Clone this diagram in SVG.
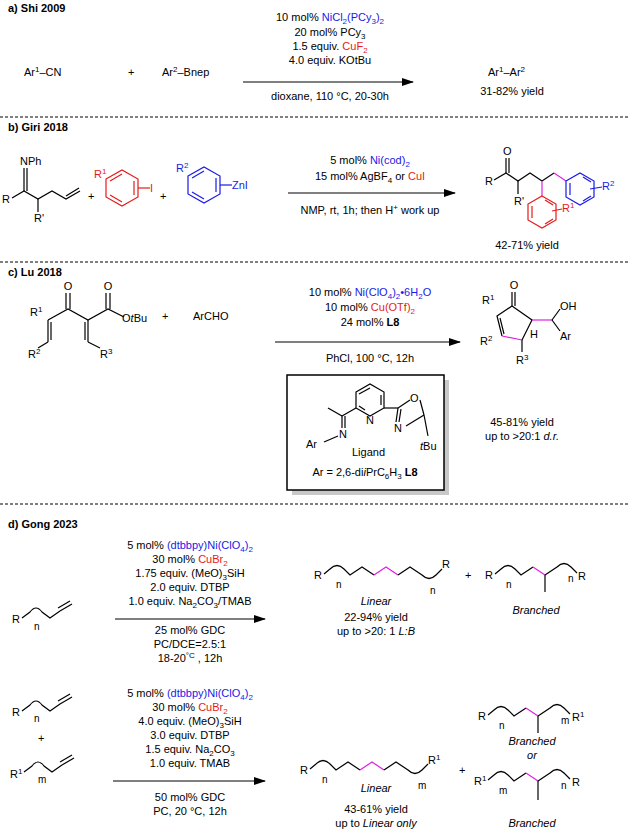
<svg xmlns="http://www.w3.org/2000/svg" width="630" height="834" viewBox="0 0 630 834">
<style>
text{font-family:"Liberation Sans",Arial,sans-serif;font-size:11px;fill:#000}
.c{text-anchor:middle}
.b{font-weight:bold}
.bl{fill:#1a1ae6}.rd{fill:#e61a1a}
.s{font-size:8px}
.n{font-size:10px}
.it{font-style:italic}
line,polyline,path,polygon{stroke:#000;stroke-width:1.2;fill:none}
.pk{stroke:#e020e0}.rr{stroke:#e61a1a}.bb{stroke:#1a1ae6}
.dash{stroke-dasharray:3 2;stroke-width:1}
</style>
<defs><marker id="ah" markerWidth="12" markerHeight="8" refX="11" refY="4" orient="auto" markerUnits="userSpaceOnUse"><path d="M0,0L12,4L0,8Z" style="fill:#000;stroke:none"/></marker></defs>
<g id="connectors">
<line x1="243" y1="82" x2="413" y2="82" marker-end="url(#ah)"/>
<line x1="288" y1="193" x2="455" y2="193" marker-end="url(#ah)"/>
<line x1="275" y1="342" x2="460" y2="342" marker-end="url(#ah)"/>
<line x1="115" y1="619" x2="265" y2="619" marker-end="url(#ah)"/>
<line x1="113" y1="781" x2="265" y2="781" marker-end="url(#ah)"/>
<line class="dash" x1="0" y1="117" x2="630" y2="117"/>
<line class="dash" x1="0" y1="262" x2="630" y2="262"/>
<line class="dash" x1="0" y1="504" x2="630" y2="504"/>
</g>
<g id="a">
<text x="8" y="12" class="b">a) Shi 2009</text>
<text x="24" y="76">Ar<tspan class="s" dy="-4">1</tspan><tspan dy="4">–CN</tspan></text>
<text x="128" y="76">+</text>
<text x="162" y="76">Ar<tspan class="s" dy="-4">2</tspan><tspan dy="4">–Bnep</tspan></text>
<text x="330" y="21" class="c">10 mol% <tspan class="bl">NiCl</tspan><tspan class="bl s" dy="3">2</tspan><tspan class="bl" dy="-3">(PCy</tspan><tspan class="bl s" dy="3">3</tspan><tspan class="bl" dy="-3">)</tspan><tspan class="bl s" dy="3">2</tspan></text>
<text x="330" y="36" class="c">20 mol% PCy<tspan class="s" dy="3">3</tspan></text>
<text x="330" y="50" class="c">1.5 equiv. <tspan class="rd">CuF</tspan><tspan class="rd s" dy="3">2</tspan></text>
<text x="330" y="64" class="c">4.0 equiv. KOtBu</text>
<text x="330" y="100" class="c">dioxane, 110 °C, 20-30h</text>
<text x="488" y="76">Ar<tspan class="s" dy="-4">1</tspan><tspan dy="4">–Ar</tspan><tspan class="s" dy="-4">2</tspan></text>
<text x="512" y="95" class="c">31-82% yield</text>
</g>
<g id="b">
<text x="8" y="131" class="b">b) Giri 2018</text>
<polyline points="12,198 24,191 38,199 52,191 66,199 80,191"/>
<line x1="24" y1="191" x2="24" y2="168"/><line x1="27" y1="191" x2="27" y2="168"/>
<line x1="66" y1="196" x2="79" y2="188"/>
<line x1="38" y1="199" x2="38" y2="212"/>
<text x="20" y="165">NPh</text><text x="2" y="203">R</text><text x="34" y="222">R'</text>
<text x="88" y="200">+</text>
<polygon class="rr" points="106,179 122,170 138,179 138,197 122,206 106,197"/>
<line class="rr" x1="110" y1="181" x2="122" y2="174"/><line class="rr" x1="134" y1="181" x2="134" y2="195"/><line class="rr" x1="110" y1="195" x2="122" y2="202"/>
<line class="rr" x1="138" y1="188" x2="150" y2="188"/>
<text x="150" y="192" class="rd">I</text><text x="94" y="178" class="rd">R<tspan class="s" dy="-4">1</tspan></text>
<text x="160" y="200">+</text>
<polygon class="bb" points="188,176 204,167 220,176 220,194 204,203 188,194"/>
<line class="bb" x1="192" y1="178" x2="204" y2="171"/><line class="bb" x1="216" y1="178" x2="216" y2="192"/><line class="bb" x1="192" y1="192" x2="204" y2="199"/>
<line class="bb" x1="220" y1="185" x2="232" y2="185"/>
<text x="232" y="189" class="bl">ZnI</text><text x="176" y="172" class="bl">R<tspan class="s" dy="-4">2</tspan></text>
<text x="370" y="164" class="c">5 mol% <tspan class="bl">Ni(cod)</tspan><tspan class="bl s" dy="3">2</tspan></text>
<text x="370" y="180" class="c">15 mol% AgBF<tspan class="s" dy="3">4</tspan><tspan dy="-3"> or </tspan><tspan class="rd">CuI</tspan></text>
<text x="370" y="214" class="c">NMP, rt, 1h; then H<tspan class="s" dy="-4">+</tspan><tspan dy="4"> work up</tspan></text>
<polyline points="494,180 506,173 518,181 530,173 542,181"/>
<line x1="506" y1="173" x2="506" y2="158"/><line x1="509" y1="173" x2="509" y2="158"/>
<text x="503" y="155">O</text><text x="485" y="185">R</text>
<line x1="518" y1="181" x2="518" y2="194"/><text x="514" y="205">R'</text>
<line x1="542" y1="181" x2="554" y2="173"/>
<line class="pk" x1="542" y1="181" x2="542" y2="196"/>
<line class="pk" x1="554" y1="173" x2="566" y2="181"/>
<polygon class="rr" points="542,196 556,204 556,220 542,228 528,220 528,204"/>
<line class="rr" x1="532" y1="206" x2="532" y2="218"/><line class="rr" x1="545" y1="224" x2="553" y2="219"/><line class="rr" x1="545" y1="200" x2="553" y2="205"/>
<line class="rr" x1="552" y1="211" x2="562" y2="209"/><text x="562" y="212" class="rd">R<tspan class="s" dy="-4">1</tspan></text>
<polygon class="bb" points="566,181 580,173 594,181 594,197 580,205 566,197"/>
<line class="bb" x1="570" y1="183" x2="570" y2="195"/><line class="bb" x1="583" y1="177" x2="591" y2="182"/><line class="bb" x1="583" y1="201" x2="591" y2="196"/>
<line class="bb" x1="590" y1="189" x2="602" y2="187"/><text x="602" y="190" class="bl">R<tspan class="s" dy="-4">2</tspan></text>
<text x="527" y="249" class="c">42-71% yield</text>
</g>
<g id="c">
<text x="8" y="276" class="b">c) Lu 2018</text>
<g transform="translate(0,12)">
<polyline points="48,308 68,297 88,308 108,297 124,305"/>
<line x1="48" y1="308" x2="48" y2="330"/><line x1="51" y1="310" x2="51" y2="328"/>
<line x1="48" y1="330" x2="38" y2="336"/>
<line x1="66" y1="297" x2="66" y2="281"/><line x1="70" y1="297" x2="70" y2="281"/>
<line x1="106" y1="297" x2="106" y2="281"/><line x1="110" y1="297" x2="110" y2="281"/>
<line x1="88" y1="308" x2="88" y2="330"/><line x1="85" y1="310" x2="85" y2="328"/>
<line x1="88" y1="330" x2="100" y2="336"/>
<text x="68" y="278" class="c">O</text><text x="108" y="278" class="c">O</text>
<text x="30" y="304">R<tspan class="s" dy="-4">1</tspan></text><text x="28" y="346">R<tspan class="s" dy="-4">2</tspan></text>
<text x="100" y="346">R<tspan class="s" dy="-4">3</tspan></text>
<text x="122" y="310">O<tspan class="it">t</tspan>Bu</text>
</g>
<text x="162" y="320">+</text><text x="193" y="320">ArCHO</text>
<text x="370" y="296" class="c">10 mol% <tspan class="bl">Ni(ClO</tspan><tspan class="bl s" dy="3">4</tspan><tspan class="bl" dy="-3">)</tspan><tspan class="bl s" dy="3">2</tspan><tspan class="bl" dy="-3">•6H</tspan><tspan class="bl s" dy="3">2</tspan><tspan class="bl" dy="-3">O</tspan></text>
<text x="370" y="311" class="c">10 mol% <tspan class="rd">Cu(OTf)</tspan><tspan class="rd s" dy="3">2</tspan></text>
<text x="370" y="326" class="c">24 mol% <tspan class="b">L8</tspan></text>
<text x="370" y="362" class="c">PhCl, 100 °C, 12h</text>
<rect x="292" y="380" width="157" height="115" style="fill:#c8c8c8"/>
<rect x="287" y="375" width="157" height="115" style="fill:#fff;stroke:#000;stroke-width:1.5"/>
<polygon points="356,392 370,384 384,392 384,408 370,416 356,408"/>
<line x1="359" y1="394" x2="370" y2="388"/><line x1="381" y1="395" x2="381" y2="405"/><line x1="359" y1="406" x2="365" y2="410"/>
<text x="366" y="424">N</text>
<line x1="356" y1="408" x2="342" y2="416"/><line x1="342" y1="416" x2="328" y2="408"/>
<line x1="342" y1="416" x2="342" y2="428"/><line x1="345" y1="416" x2="345" y2="428"/>
<text x="339" y="438">N</text><line x1="338" y1="436" x2="324" y2="442"/><text x="306" y="448">Ar</text>
<line x1="384" y1="408" x2="398" y2="408"/>
<line x1="398" y1="408" x2="396" y2="422"/><line x1="401" y1="409" x2="399" y2="422"/>
<line x1="398" y1="408" x2="410" y2="400"/><text x="410" y="402">O</text>
<line x1="420" y1="400" x2="424" y2="415"/><line x1="424" y1="415" x2="406" y2="426"/>
<text x="394" y="432">N</text><line x1="424" y1="415" x2="428" y2="436"/>
<text x="352" y="456">Ligand</text><text x="420" y="450"><tspan class="it">t</tspan>Bu</text>
<text x="365" y="476" class="c">Ar = 2,6-di<tspan class="it">i</tspan>PrC<tspan class="s" dy="3">6</tspan><tspan dy="-3">H</tspan><tspan class="s" dy="3">3</tspan><tspan dy="-3"> </tspan><tspan class="b">L8</tspan></text>
<polyline points="512,306 497,316 502,336"/>
<line class="pk" x1="502" y1="336" x2="522" y2="340"/>
<polyline points="522,340 532,320 512,306"/>
<line x1="500" y1="318" x2="504" y2="334"/>
<line x1="512" y1="306" x2="512" y2="292"/><line x1="515" y1="306" x2="515" y2="292"/>
<text x="514" y="289" class="c">O</text>
<line class="pk" x1="532" y1="320" x2="552" y2="320"/>
<line x1="552" y1="320" x2="560" y2="309"/><line x1="552" y1="320" x2="560" y2="331"/>
<line x1="522" y1="340" x2="522" y2="352"/>
<text x="482" y="304">R<tspan class="s" dy="-4">1</tspan></text><text x="480" y="345">R<tspan class="s" dy="-4">2</tspan></text>
<text x="530" y="338">H</text><text x="516" y="364">R<tspan class="s" dy="-4">3</tspan></text>
<text x="560" y="310">OH</text><text x="560" y="340">Ar</text>
<text x="522" y="426" class="c">45-81% yield</text>
<text x="522" y="440" class="c">up to &gt;20:1 <tspan class="it">d.r.</tspan></text>
</g>
<g id="d">
<text x="8" y="528" class="b">d) Gong 2023</text>
<text x="12" y="623">R</text>
<path d="M22,618 L30,612 Q36,604 42,612 L50,618 L60,611"/><line x1="60" y1="611" x2="72" y2="604"/><line x1="58" y1="608" x2="70" y2="601"/>
<text x="34" y="630" class="n">n</text>
<text x="190" y="549" class="c">5 mol% <tspan class="bl">(dtbbpy)Ni(ClO</tspan><tspan class="bl s" dy="3">4</tspan><tspan class="bl" dy="-3">)</tspan><tspan class="bl s" dy="3">2</tspan></text>
<text x="190" y="563" class="c">30 mol% <tspan class="rd">CuBr</tspan><tspan class="rd s" dy="3">2</tspan></text>
<text x="190" y="577" class="c">1.75 equiv. (MeO)<tspan class="s" dy="3">3</tspan><tspan dy="-3">SiH</tspan></text>
<text x="190" y="591" class="c">2.0 equiv. DTBP</text>
<text x="190" y="605" class="c">1.0 equiv. Na<tspan class="s" dy="3">2</tspan><tspan dy="-3">CO</tspan><tspan class="s" dy="3">3</tspan><tspan dy="-3">/TMAB</tspan></text>
<text x="190" y="634" class="c">25 mol%  GDC</text>
<text x="190" y="648" class="c">PC/DCE=2.5:1</text>
<text x="190" y="662" class="c">18-20<tspan class="s" dy="-4">°C</tspan><tspan dy="4">  , 12h</tspan></text>
<text x="314" y="579">R</text>
<path d="M324,574 L330,569 Q337,562 344,569 L350,575 L362,567 L374,575"/>
<path class="pk" d="M374,575 L386,567 L398,575"/>
<path d="M398,575 L410,567 L422,575 Q429,582 436,575 L442,569"/>
<text x="336" y="588" class="n">n</text><text x="430" y="594" class="n">n</text><text x="442" y="568">R</text>
<text x="376" y="605" class="c it">Linear</text>
<text x="376" y="621" class="c">22-94% yield</text>
<text x="376" y="635" class="c">up to &gt;20: 1 <tspan class="it">L:B</tspan></text>
<text x="465" y="579">+</text>
<text x="485" y="579">R</text>
<path d="M495,574 L501,569 Q508,562 515,569 L521,575 L533,567"/>
<path class="pk" d="M533,567 L545,575"/>
<path d="M545,575 L557,567 Q564,560 571,567 L577,573"/><line x1="545" y1="575" x2="545" y2="592"/>
<text x="506" y="588" class="n">n</text><text x="568" y="582" class="n">n</text><text x="578" y="580">R</text>
<text x="536" y="614" class="c it">Branched</text>
<text x="12" y="716">R</text>
<path d="M22,711 L30,705 Q36,697 42,705 L50,711 L60,704"/><line x1="60" y1="704" x2="72" y2="697"/><line x1="58" y1="701" x2="70" y2="694"/>
<text x="34" y="722" class="n">n</text>
<text x="38" y="742">+</text>
<text x="10" y="778">R<tspan class="s" dy="-4">1</tspan></text>
<path d="M24,772 L32,766 Q38,758 44,766 L52,772 L62,765"/><line x1="62" y1="765" x2="74" y2="758"/><line x1="60" y1="762" x2="72" y2="755"/>
<text x="38" y="783" class="n">m</text>
<text x="190" y="697" class="c">5 mol% <tspan class="bl">(dtbbpy)Ni(ClO</tspan><tspan class="bl s" dy="3">4</tspan><tspan class="bl" dy="-3">)</tspan><tspan class="bl s" dy="3">2</tspan></text>
<text x="190" y="711" class="c">30 mol% <tspan class="rd">CuBr</tspan><tspan class="rd s" dy="3">2</tspan></text>
<text x="190" y="725" class="c">4.0 equiv. (MeO)<tspan class="s" dy="3">3</tspan><tspan dy="-3">SiH</tspan></text>
<text x="190" y="739" class="c">3.0 equiv. DTBP</text>
<text x="190" y="753" class="c">1.5 equiv. Na<tspan class="s" dy="3">2</tspan><tspan dy="-3">CO</tspan><tspan class="s" dy="3">3</tspan></text>
<text x="190" y="767" class="c">1.0 equiv. TMAB</text>
<text x="190" y="801" class="c">50 mol%  GDC</text>
<text x="190" y="815" class="c">PC, 20 °C, 12h</text>
<text x="300" y="774">R</text>
<path d="M310,769 L316,764 Q323,757 330,764 L336,770 L348,762 L360,770"/>
<path class="pk" d="M360,770 L372,762 L384,770"/>
<path d="M384,770 L396,762 L408,770 Q415,777 422,770 L428,764"/>
<text x="322" y="783" class="n">n</text><text x="418" y="789" class="n">m</text><text x="428" y="764">R<tspan class="s" dy="-4">1</tspan></text>
<text x="459" y="774">+</text>
<text x="376" y="792" class="c it">Linear</text>
<text x="376" y="813" class="c">43-61% yield</text>
<text x="376" y="827" class="c">up to <tspan class="it">Linear only</tspan></text>
<text x="478" y="720">R</text>
<path d="M488,715 L494,710 Q501,703 508,710 L514,716 L526,708"/>
<path class="pk" d="M526,708 L538,716"/>
<path d="M538,716 L550,708 Q557,701 564,708 L570,714"/><line x1="538" y1="716" x2="538" y2="733"/>
<text x="499" y="729" class="n">n</text><text x="561" y="724" class="n">m</text><text x="572" y="721">R<tspan class="s" dy="-4">1</tspan></text>
<text x="532" y="745" class="c it">Branched</text>
<text x="532" y="759" class="c it">or</text>
<text x="474" y="785">R<tspan class="s" dy="-4">1</tspan></text>
<path d="M488,780 L494,775 Q501,768 508,775 L514,781 L526,773"/>
<path class="pk" d="M526,773 L538,781"/>
<path d="M538,781 L550,773 Q557,766 564,773 L570,779"/><line x1="538" y1="781" x2="538" y2="800"/>
<text x="499" y="794" class="n">m</text><text x="561" y="789" class="n">n</text><text x="572" y="786">R</text>
<text x="532" y="827" class="c it">Branched</text>
</g>
</svg>
